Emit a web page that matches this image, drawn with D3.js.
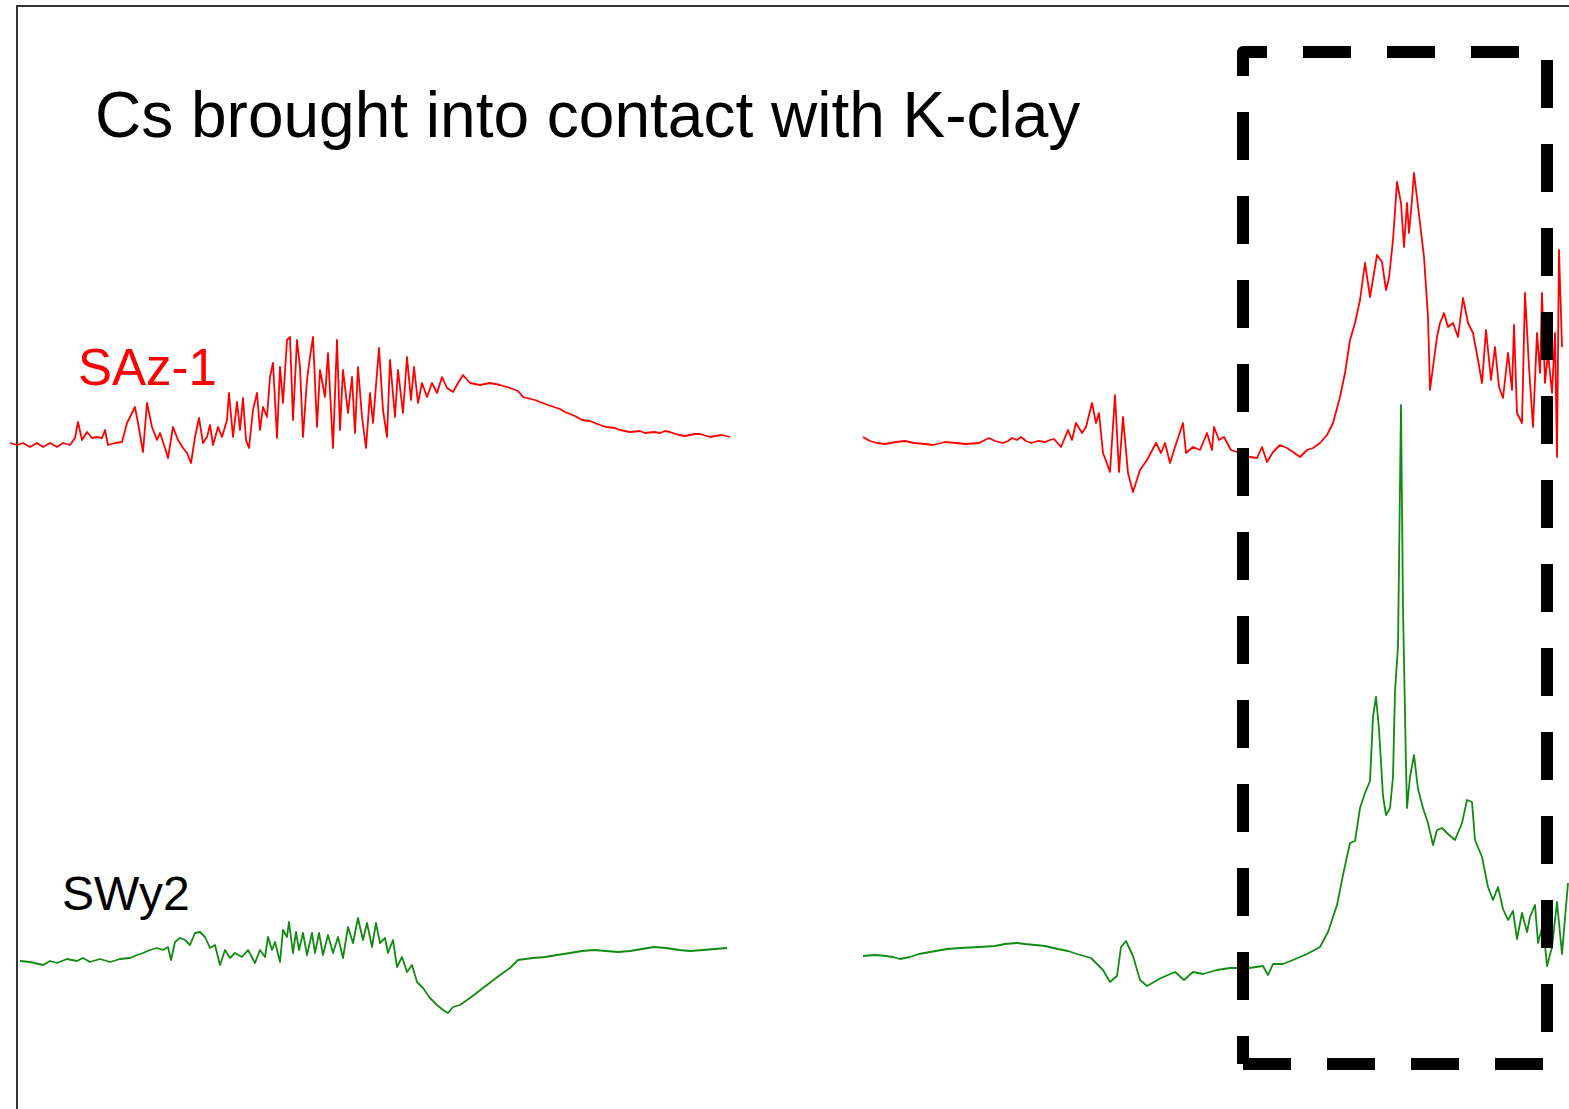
<!DOCTYPE html>
<html>

<head>
  <meta charset="utf-8">
  <title>Cs brought into contact with K-clay</title>
  <script src="https://cdn.jsdelivr.net/npm/d3@7"></script>
  <style>
    body { margin: 0; background: #fff; }
    text { font-family: "Liberation Sans", Arial, sans-serif; }
  </style>
</head>

<body>
  <svg class="chart"></svg>
</body>
<script>
  //1. Data: [channel, intensity above the trace's own baseline]
  var sazLow = [[10,0],[17,-2],[23,0],[30,-4],[37,0],[43,-4],[50,0],[57,-4],[63,0],[70,-2],[75,5],[78,21],[82,3],[87,11],[92,5],[97,6],[102,5],[105,13],[108,-2],[115,0],[122,1],[127,20],[132,30],[135,36],[138,20],[143,-9],[147,40],[152,16],[157,3],[160,10],[165,-5],[168,-15],[173,16],[178,3],[183,-5],[187,-10],[191,-20],[195,6],[199,25],[203,0],[207,6],[210,18],[213,-2],[218,16],[222,6],[227,23],[229,50],[233,6],[237,41],[240,13],[243,45],[246,3],[249,-5],[253,33],[257,50],[260,13],[263,36],[267,26],[270,66],[273,80],[277,5],[280,76],[283,40],[287,103],[290,106],[293,23],[297,103],[300,76],[303,6],[307,63],[310,86],[313,106],[317,16],[320,73],[325,46],[328,90],[333,-5],[337,103],[340,13],[343,73],[348,30],[352,66],[355,10],[358,76],[362,26],[366,-5],[370,50],[373,20],[379,95],[383,33],[387,6],[390,83],[395,26],[398,73],[403,30],[407,86],[411,43],[414,76],[418,40],[422,60],[427,46],[432,60],[437,50],[442,66],[447,55],[453,51],[458,60],[463,68],[470,60],[480,58],[490,60],[500,58],[510,55],[518,52],[523,46],[535,43],[540,41],[548,38],[557,35],[560,34],[565,31],[575,27],[582,23],[590,22],[595,20],[600,18],[606,16],[615,15],[620,13],[625,12],[630,11],[640,12],[645,10],[654,11],[660,10],[665,12],[670,11],[679,8],[685,7],[690,8],[695,9],[700,9],[710,6],[715,7],[722,8],[730,6]];

  var sazHigh = [[863,6],[870,2],[877,0],[885,-1],[896,1],[905,2],[914,0],[925,-1],[933,-2],[945,1],[956,0],[965,-1],[979,0],[989,5],[995,2],[1003,0],[1008,2],[1012,5],[1017,3],[1021,6],[1026,2],[1031,0],[1038,2],[1045,1],[1050,3],[1054,4],[1061,-4],[1068,13],[1072,3],[1076,20],[1082,10],[1086,16],[1092,40],[1096,20],[1099,30],[1103,-10],[1110,-29],[1115,48],[1119,-29],[1123,26],[1128,-30],[1133,-49],[1140,-27],[1147,-17],[1156,0],[1161,-10],[1165,0],[1170,-20],[1175,-4],[1183,20],[1186,-10],[1193,-4],[1200,-7],[1207,10],[1212,-7],[1214,16],[1219,3],[1224,6],[1231,-7],[1240,-10],[1250,-14],[1257,-15],[1262,-4],[1267,-19],[1273,-9],[1280,-2],[1287,-5],[1293,-9],[1300,-14],[1307,-7],[1313,-5],[1320,0],[1327,8],[1333,20],[1340,46],[1345,70],[1350,103],[1355,120],[1360,143],[1365,180],[1370,146],[1377,188],[1382,181],[1386,153],[1389,165],[1393,203],[1397,261],[1401,240],[1404,196],[1407,240],[1409,210],[1412,243],[1414,270],[1420,220],[1424,186],[1428,126],[1430,53],[1433,76],[1437,106],[1440,120],[1444,130],[1448,116],[1453,120],[1458,106],[1463,145],[1468,120],[1473,110],[1478,83],[1482,60],[1486,113],[1491,63],[1495,96],[1499,56],[1503,45],[1508,90],[1512,53],[1514,118],[1517,30],[1522,20],[1525,150],[1529,76],[1533,16],[1537,110],[1540,70],[1542,150],[1545,60],[1548,90],[1552,50],[1555,110],[1557,-14],[1559,193],[1562,96]];

  var swyLow = [[20,-1],[30,-2],[43,-5],[50,-1],[57,-3],[67,1],[77,-1],[83,2],[90,-2],[100,1],[110,-2],[120,1],[130,2],[137,5],[143,7],[150,10],[157,12],[163,10],[168,13],[171,0],[175,18],[180,22],[185,20],[190,15],[195,27],[200,28],[205,23],[210,12],[215,15],[220,-5],[225,10],[230,2],[235,7],[242,3],[248,10],[255,-3],[260,10],[265,3],[268,23],[272,10],[275,18],[280,-2],[283,30],[287,23],[289,38],[293,7],[296,28],[299,10],[303,27],[307,5],[312,27],[315,7],[319,27],[323,5],[328,25],[333,7],[338,23],[343,2],[348,33],[353,17],[358,42],[363,20],[367,37],[372,13],[376,37],[380,17],[385,22],[388,7],[393,20],[397,-7],[402,3],[407,-12],[412,-5],[417,-22],[423,-28],[430,-38],[437,-45],[443,-50],[448,-53],[453,-47],[460,-45],[470,-38],[483,-28],[500,-15],[510,-8],[518,0],[525,1],[533,2],[545,3],[557,5],[570,7],[582,9],[594,10],[606,9],[618,8],[630,9],[642,11],[654,13],[666,12],[679,10],[690,9],[703,10],[715,11],[727,12]];

  var swyHigh = [[863,4],[875,5],[886,4],[893,3],[900,1],[910,3],[919,6],[930,8],[947,11],[960,12],[979,13],[995,14],[1005,16],[1017,17],[1025,16],[1035,15],[1045,14],[1058,11],[1068,9],[1077,6],[1084,4],[1091,2],[1097,-4],[1103,-10],[1110,-22],[1117,-16],[1121,13],[1126,19],[1133,4],[1140,-20],[1147,-26],[1161,-18],[1175,-12],[1184,-20],[1193,-12],[1203,-14],[1217,-10],[1230,-8],[1249,-8],[1263,-6],[1268,-15],[1273,-4],[1283,-4],[1293,0],[1307,6],[1320,13],[1328,28],[1337,55],[1343,85],[1350,117],[1355,119],[1360,152],[1365,167],[1370,179],[1373,243],[1376,263],[1379,231],[1383,164],[1386,145],[1390,152],[1393,183],[1395,269],[1398,314],[1401,555],[1403,352],[1406,194],[1407,152],[1410,183],[1414,205],[1418,171],[1423,152],[1428,137],[1433,115],[1437,130],[1442,132],[1448,126],[1455,120],[1462,137],[1467,160],[1472,158],[1475,120],[1482,103],[1488,73],[1493,60],[1498,73],[1503,51],[1508,40],[1513,49],[1517,21],[1522,47],[1527,28],[1530,43],[1535,55],[1538,17],[1543,36],[1547,-6],[1552,13],[1557,58],[1562,6],[1568,77]];

  // vertical stacking offsets of the two spectra
  var offsets = { saz: 666, swy: 149 };
  // highlighted region: channels and intensity span
  var boxX = [1243, 1547],
  boxY = [45, 1057];

  //2. UI Component Properties
  var SVGWidth = 1569,
  SVGHeight = 1109;

  //3. Scaling
  var x = d3.scaleLinear().domain([0, 1569]).range([0, SVGWidth]);
  var y = d3.scaleLinear().domain([0, 1109]).range([SVGHeight, 0]);

  //4. SVG chart
  var svg = d3.select(".chart")
  .attr("width", SVGWidth)
  .attr("height", SVGHeight)
  .style("display", "block");

  // frame (left + top)
  svg.append("path")
  .attr("d", "M17," + SVGHeight + "V6H" + SVGWidth)
  .attr("fill", "none")
  .attr("stroke", "#333")
  .attr("stroke-width", 2);

  //5. Traces
  function trace(data, off, colour) {
    var line = d3.line()
    .x(function(d){ return x(d[0]); })
    .y(function(d){ return y(d[1] + off); });
    svg.append("path")
    .datum(data)
    .attr("d", line)
    .attr("fill", "none")
    .attr("stroke", colour)
    .attr("stroke-width", 1.8)
    .attr("stroke-linejoin", "round");
  }
  trace(sazLow, offsets.saz, "#ff0000");
  trace(sazHigh, offsets.saz, "#ff0000");
  trace(swyLow, offsets.swy, "#118a11");
  trace(swyHigh, offsets.swy, "#118a11");

  //6. Dashed highlight box (drawn from bottom-left, anticlockwise)
  var bx0 = x(boxX[0]), bx1 = x(boxX[1]), by0 = y(boxY[0]), by1 = y(boxY[1]);
  svg.append("path")
  .attr("d", "M" + bx0 + "," + by0 + "H" + bx1 + "V" + by1 + "H" + bx0 + "V" + by0)
  .attr("fill", "none")
  .attr("stroke", "#000")
  .attr("stroke-width", 12)
  .attr("stroke-dasharray", "48,36")
  .attr("stroke-linejoin", "round");

  //7. Text
  svg.append("text")
  .attr("x", 95).attr("y", 137)
  .style("font-size", "64px")
  .style("fill", "#000")
  .text("Cs brought into contact with K-clay");

  svg.append("text")
  .attr("x", 78).attr("y", 385)
  .style("font-size", "51px")
  .style("fill", "#ff0000")
  .text("SAz-1");

  svg.append("text")
  .attr("x", 62).attr("y", 910)
  .style("font-size", "48px")
  .style("fill", "#000")
  .text("SWy2");

</script>

</html>
